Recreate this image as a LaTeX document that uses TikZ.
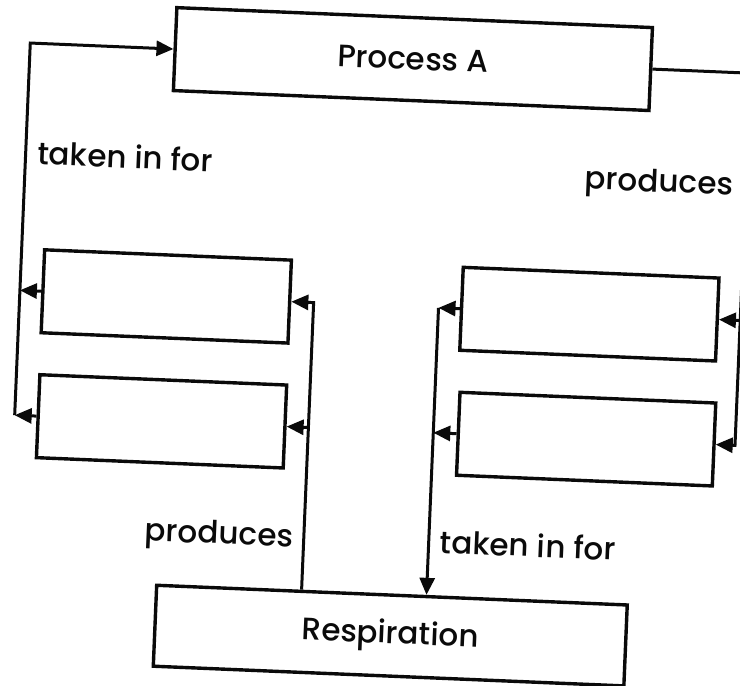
\documentclass[tikz,border=0pt]{standalone}
\usepackage{fontspec}
\setmainfont{Poppins}[UprightFont=* Medium]
\usetikzlibrary{arrows.meta,positioning,calc}
\definecolor{ink}{HTML}{0A0A0A}
\tikzset{
  every node/.style={font=\fontsize{31}{36}\selectfont, text=ink},
  box/.style={draw=ink, line width=3.4pt, minimum height=83pt, inner sep=0pt, align=center},
  link/.style={line width=3pt, draw=ink},
  arrow/.style={-{Triangle[length=17pt,width=15pt]}, line width=3pt, draw=ink},
  linklabel/.style={inner sep=0pt},
}

\begin{document}
\begin{tikzpicture}[x=1pt, y=-1pt]
\useasboundingbox (0,0) rectangle (740,686);
\begin{scope}[rotate around={-2.4:(370,343)}, every node/.append style={transform shape}]
\node[box, minimum width=476pt] (procA) at (401,57.5) {Process A};
\node[box, minimum width=247pt] (inA) at (164.5,305) {};
\node[box, minimum width=247pt] (inB) at (165,430) {};
\node[box, minimum width=256pt] (outA) at (588,305) {};
\node[box, minimum width=256pt] (outB) at (590,430) {};
\node[box, minimum width=471pt, minimum height=81pt] (resp) at (402.5,634.5) {Respiration};
\coordinate (inTop) at (18,57.5);
\coordinate (prodL) at (312,305);
\coordinate (takeR) at (437,305);
\coordinate (prodR) at (739,57.5);
% left side: into Process A
\draw[arrow] (inA.west) -- (inA.west -| inTop);
\draw[arrow] (inB.west) -- (inB.west -| inTop);
\draw[arrow] (inB.west -| inTop) -- (inTop) -- (procA.west);
\draw[arrow] (resp.north -| prodL) -- (prodL) -- (inA.east);
\draw[arrow] (inB.east -| prodL) -- (inB.east);
% right side: out of Process A
\draw[arrow] (procA.east) -- (prodR) -- (prodR |- outB.east) -- (outB.east);
\draw[arrow] (prodR |- outA.east) -- (outA.east);
\draw[arrow] (outA.west) -- (takeR);
\draw[arrow] (outB.west) -- (outB.west -| takeR);
\draw[arrow] (takeR) -- (resp.north -| takeR);
\node[linklabel, anchor=base west] (takeInA) at (30,178.5) {taken in for};
\node[linklabel, anchor=base east] (prodA) at (726.5,180) {produces};
\node[linklabel, anchor=base east] (prodB) at (301.5,550) {produces};
\node[linklabel, anchor=base west] (takeInB) at (448.5,550) {taken in for};
\end{scope}
\end{tikzpicture}
\end{document}
